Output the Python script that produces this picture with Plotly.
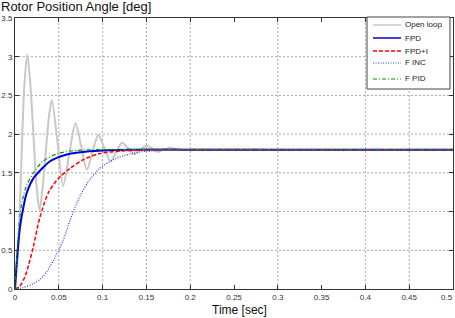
import plotly.graph_objects as go

# Open loop response
t_open = [0, 0.0035, 0.007, 0.0105, 0.014, 0.0175, 0.021, 0.0245, 0.028, 0.0315, 0.035, 0.0385,
          0.042, 0.0485, 0.055, 0.062, 0.069, 0.0755, 0.082, 0.0885, 0.095, 0.102, 0.109, 0.1155,
          0.122, 0.129, 0.136, 0.143, 0.15, 0.157, 0.163, 0.17, 0.177, 0.19, 0.2, 0.3, 0.4, 0.5]
v_open = [0, 0.45, 1.55, 2.6, 3.03, 2.65, 2.0, 1.35, 1.02, 1.3, 1.75, 2.2,
          2.44, 1.9, 1.33, 1.75, 2.14, 1.85, 1.54, 1.77, 1.99, 1.82, 1.65, 1.77,
          1.89, 1.82, 1.74, 1.8, 1.85, 1.81, 1.77, 1.8, 1.82, 1.8, 1.8, 1.8, 1.8, 1.8]

# FPD
t_fpd = [0, 0.0025, 0.0057, 0.0095, 0.0133, 0.021, 0.032, 0.04, 0.049, 0.06, 0.07, 0.085, 0.1, 0.13, 0.2, 0.3, 0.4, 0.5]
v_fpd = [0, 0.42, 0.8, 1.05, 1.24, 1.43, 1.57, 1.65, 1.70, 1.74, 1.76, 1.78, 1.79, 1.8, 1.8, 1.8, 1.8, 1.8]

# FPD+I
t_fpdi = [0, 0.005, 0.0114, 0.016, 0.021, 0.0285, 0.038, 0.049, 0.063, 0.078, 0.097, 0.12, 0.15, 0.2, 0.3, 0.4, 0.5]
v_fpdi = [0, 0.03, 0.16, 0.33, 0.55, 0.93, 1.24, 1.42, 1.56, 1.67, 1.75, 1.78, 1.795, 1.8, 1.8, 1.8, 1.8]

# F INC
t_finc = [0, 0.01, 0.021, 0.032, 0.044, 0.055, 0.063, 0.072, 0.084, 0.097, 0.116, 0.143, 0.17, 0.2, 0.3, 0.4, 0.5]
v_finc = [0, 0.02, 0.07, 0.16, 0.37, 0.63, 0.89, 1.15, 1.39, 1.56, 1.69, 1.77, 1.79, 1.8, 1.8, 1.8, 1.8]

# F PID
t_fpid = [0, 0.0025, 0.0057, 0.0095, 0.0133, 0.021, 0.032, 0.049, 0.07, 0.1, 0.2, 0.3, 0.4, 0.5]
v_fpid = [0, 0.5, 0.95, 1.2, 1.34, 1.50, 1.65, 1.75, 1.79, 1.8, 1.8, 1.8, 1.8, 1.8]

series_names = ["Open loop", "FPD", "FPD+I", "F INC", "F PID"]

x_ticks = [0, 0.05, 0.1, 0.15, 0.2, 0.25, 0.3, 0.35, 0.4, 0.45, 0.5]
x_labels = ["0", "0.05", "0.1", "0.15", "0.2", "0.25", "0.3", "0.35", "0.4", "0.45", "0.5"]
y_ticks = [0, 0.5, 1, 1.5, 2, 2.5, 3, 3.5]
y_labels = ["0", "0.5", "1", "1.5", "2", "2.5", "3", "3.5"]
x_grid = [0.05, 0.1, 0.15, 0.2, 0.3, 0.4, 0.45]
y_grid = [0.5, 1, 1.5, 2, 2.5, 3]

W, H = 455, 318
ML, MR, MT, MB = 15, 2, 18, 29
PW, PH = W - ML - MR, H - MT - MB


def px(p):
    return (p - ML) / PW


def py(p):
    return (H - MB - p) / PH


styles = [
    dict(color="#c8c8c8", width=2),
    dict(color="#0000dd", width=2),
    dict(color="#ff0000", width=1.5, dash="4px,2px"),
    dict(color="#3333ff", width=1.2, dash="1px,1.5px"),
    dict(color="#009900", width=1.2, dash="4px,2px,1px,2px"),
]
data = [(t_open, v_open), (t_fpd, v_fpd), (t_fpdi, v_fpdi), (t_finc, v_finc), (t_fpid, v_fpid)]

fig = go.Figure()
for (tx, vy), name, st in zip(data, series_names, styles):
    fig.add_trace(go.Scatter(x=tx, y=vy, mode="lines", name=name, showlegend=False,
                             line=dict(shape="spline", smoothing=0.8, **st)))

font_fam = "Liberation Sans, Arial, sans-serif"
shapes = []
for g in x_grid:
    shapes.append(dict(type="line", xref="x", yref="paper", x0=g, x1=g, y0=0, y1=1,
                       line=dict(color="#a8a8a8", width=1, dash="2px,2px"), layer="below"))
for g in y_grid:
    shapes.append(dict(type="line", xref="paper", yref="y", x0=0, x1=1, y0=g, y1=g,
                       line=dict(color="#a8a8a8", width=1, dash="2px,2px"), layer="below"))

# legend box
shapes.append(dict(type="rect", xref="paper", yref="paper", x0=px(367), x1=px(450), y0=py(89), y1=py(17),
                   fillcolor="white", line=dict(color="#444", width=1), layer="above"))
annotations = []
leg_y = [25, 38, 51, 63, 79]
for name, st, yy in zip(series_names, styles, leg_y):
    s = dict(st)
    s["width"] = min(s["width"], 1.5)
    shapes.append(dict(type="line", xref="paper", yref="paper", x0=px(373), x1=px(401),
                       y0=py(yy), y1=py(yy), line=s, layer="above"))
    annotations.append(dict(text=name, xref="paper", yref="paper", x=px(403), y=py(yy),
                            xanchor="left", yanchor="middle", showarrow=False,
                            font=dict(size=8, family=font_fam, color="#222")))

annotations.append(dict(text="Rotor Position Angle [deg]", xref="paper", yref="paper", x=px(-1), y=py(6.5),
                        xanchor="left", yanchor="middle", showarrow=False,
                        font=dict(size=13, family=font_fam, color="#111")))
annotations.append(dict(text="Time [sec]", xref="paper", yref="paper", x=px(239), y=py(310),
                        xanchor="center", yanchor="middle", showarrow=False,
                        font=dict(size=12, family=font_fam, color="#111")))
# last x tick label kept inside the page edge
annotations.append(dict(text=x_labels[-1], xref="paper", yref="paper", x=px(455), y=py(297),
                        xanchor="right", yanchor="middle", showarrow=False,
                        font=dict(size=8, family=font_fam, color="#333")))
shown_x_labels = x_labels[:-1] + [""]

fig.update_layout(
    width=W, height=H,
    margin=dict(l=ML, r=MR, t=MT, b=MB, autoexpand=False),
    paper_bgcolor="white", plot_bgcolor="white",
    font=dict(family=font_fam, size=8, color="#333"),
    showlegend=False,
    xaxis=dict(range=[0, 0.5], tickvals=x_ticks, ticktext=shown_x_labels, showgrid=False,
               showline=True, linecolor="#333", linewidth=1, mirror="ticks",
               ticks="inside", ticklen=4, tickcolor="#333", zeroline=False,
               tickfont=dict(size=8), automargin=False, ticklabeloverflow="allow"),
    yaxis=dict(range=[0, 3.5], tickvals=y_ticks, ticktext=y_labels, showgrid=False,
               showline=True, linecolor="#333", linewidth=1, mirror="ticks",
               ticks="inside", ticklen=4, tickcolor="#333", zeroline=False,
               tickfont=dict(size=8), automargin=False, ticklabeloverflow="allow"),
    shapes=shapes,
    annotations=annotations,
)

fig.write_html("out.html", config={"displayModeBar": False},
               post_script="document.body.style.margin='0px';")
